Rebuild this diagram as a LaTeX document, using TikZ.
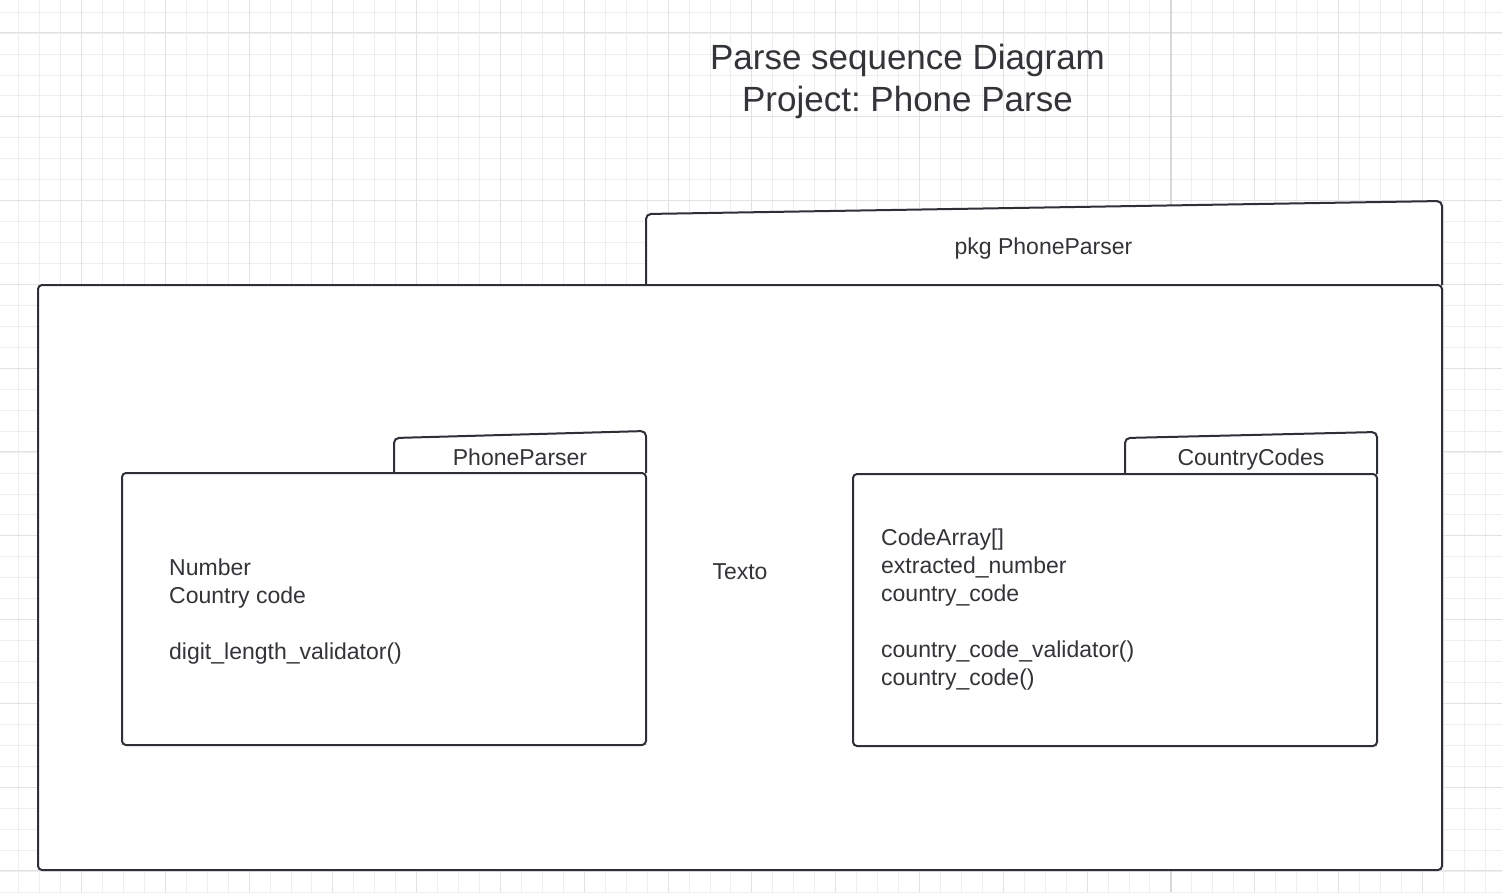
\documentclass[tikz,border=0pt]{standalone}
\usepackage{fontspec}
\setmainfont{Liberation Sans}
\frenchspacing
\definecolor{ink}{RGB}{45,48,54}
\definecolor{txt}{RGB}{50,52,56}
\definecolor{gminor}{RGB}{238,238,238}
\definecolor{gmajor}{RGB}{226,226,226}
\definecolor{gpage}{RGB}{216,216,216}
\begin{document}
\begin{tikzpicture}[x=1pt,y=-1pt,
  body/.style={draw=ink, line width=2pt, rounded corners=4pt, fill=white, inner sep=0pt, outer sep=0pt},
  tab/.style={draw=ink, line width=2pt, rounded corners=5pt, fill=white},
  lbl/.style={text=txt, font=\fontsize{23}{28}\selectfont, inner sep=0pt, anchor=base},
  lblw/.style={lbl, anchor=base west},
  ttl/.style={text=txt, font=\fontsize{35}{42}\selectfont, inner sep=0pt, anchor=base},
  minorline/.style={draw=gminor, line width=1pt},
  majorline/.style={draw=gmajor, line width=1pt}]
\useasboundingbox[fill=white] (0,0) rectangle (1502,892);
% grid
\foreach \k in {0,...,70} { \pgfmathsetmacro\xx{round(18.2+20.95*\k)+0.5} \draw[minorline] (\xx,0) -- (\xx,892); }
\foreach \k in {0,...,42} { \pgfmathsetmacro\yy{round(11.7+20.95*\k)+0.5} \draw[minorline] (0,\yy) -- (1502,\yy); }
\foreach \k in {0,...,16} { \pgfmathsetmacro\xx{round(81+83.8*\k)+0.5} \draw[majorline] (\xx,0) -- (\xx,892); }
\foreach \k in {0,...,10} { \pgfmathsetmacro\yy{round(32.3+83.8*\k)+0.5} \draw[majorline] (0,\yy) -- (1502,\yy); }
\draw[draw=gpage, line width=2pt] (1171,0) -- (1171,892);
% title
\node[ttl] (title1) at (907.5,69) {Parse sequence Diagram};
\node[ttl] (title2) at (907.5,111) {Project: Phone Parse};
% outer package
\draw[tab] (646,285) -- (646,214) -- (1442,201) -- (1442,285);
\node[body, minimum width=1404pt, minimum height=585pt] (outer) at (740,577.5) {};
\node[lbl] (pkglabel) at (1043.5,254.5) {pkg PhoneParser};
% PhoneParser
\draw[tab] (394,473) -- (394,438) -- (646,431) -- (646,473);
\node[body, minimum width=524pt, minimum height=272pt] (pp) at (384,609) {};
\node[lbl] (pplabel) at (520,465) {PhoneParser};
\node[lblw] (pp1) at (169,575.5) {Number};
\node[lblw] (pp2) at (169,603.5) {Country code};
\node[lblw] (pp3) at (169,659.5) {digit\_length\_validator()};
% CountryCodes
\draw[tab] (1125,474) -- (1125,438) -- (1377,432) -- (1377,474);
\node[body, minimum width=524pt, minimum height=272pt] (cc) at (1115,610) {};
\node[lbl] (cclabel) at (1251,465.5) {CountryCodes};
\node[lblw] (cc1) at (881,545) {CodeArray[]};
\node[lblw] (cc2) at (881,573) {extracted\_number};
\node[lblw] (cc3) at (881,601) {country\_code};
\node[lblw] (cc4) at (881,657) {country\_code\_validator()};
\node[lblw] (cc5) at (881,685) {country\_code()};
% free text
\node[lbl] (texto) at (740,579.5) {Texto};
\end{tikzpicture}
\end{document}
